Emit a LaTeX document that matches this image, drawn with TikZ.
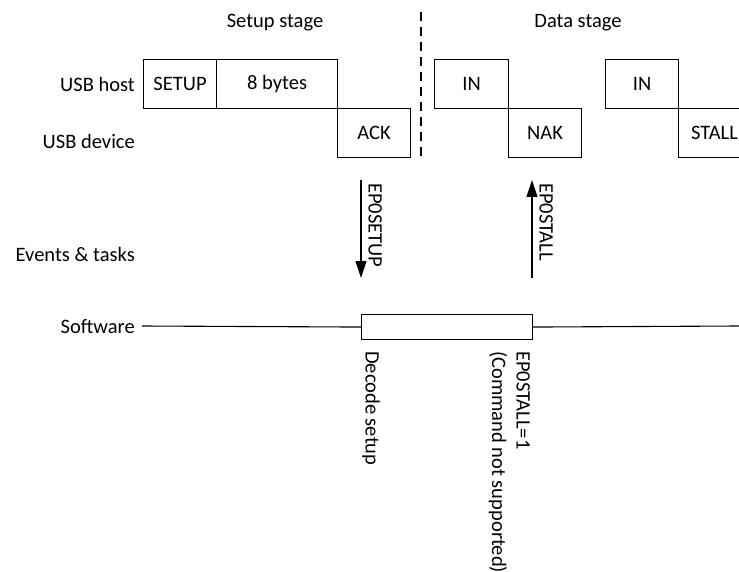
\documentclass[tikz,border=0pt]{standalone}
\usepackage{fontspec}
\setmainfont{Carlito}
\usetikzlibrary{arrows.meta}
\begin{document}
\begin{tikzpicture}[x=1pt,y=-1pt,
  every node/.style={font=\fontsize{20.5}{24.5}\selectfont, inner sep=0pt},
  pkt/.style={draw, line width=1.1pt, anchor=north west, minimum height=49pt},
  lbl/.style={anchor=east},
  vlbl/.style={rotate=-90, anchor=north west, align=left},
  evt/.style={line width=1.1pt, -{Triangle[length=17pt,width=11pt]}},
  ln/.style={line width=1.1pt}]
\useasboundingbox (0,0) rectangle (739,572);
% stage titles
\node (setupstage) at (275,23) {Setup stage};
\node (datastage) at (578,23) {Data stage};
\coordinate (dtop) at (421,12);
\coordinate (dbot) at (421,157);
\draw[ln, dash pattern=on 9pt off 6pt] (dtop) -- (dbot);
% row labels
\node[lbl] (host) at (135,84) {USB host};
\node[lbl] (dev) at (135,141) {USB device};
\node[lbl] (evts) at (135,254) {Events \& tasks};
\node[lbl] (sw) at (135,327) {Software};
% packets
\node[pkt, minimum width=73pt] (setup) at (143,59) {SETUP};
\node[pkt, minimum width=121pt] (bytes) at (216,59) {8 bytes};
\node[pkt, minimum width=73pt] (ack) at (337,108) {ACK};
\node[pkt, minimum width=74pt] (in1) at (434,59) {IN};
\node[pkt, minimum width=73pt] (nak) at (508,108) {NAK};
\node[pkt, minimum width=73pt] (in2) at (605,59) {IN};
\node[pkt, minimum width=72pt] (stall) at (678,108) {STALL};
% events
\coordinate (e1a) at (361,180);
\coordinate (e1b) at (361,278);
\coordinate (e2a) at (532,278);
\coordinate (e2b) at (532,180);
\draw[evt] (e1a) -- (e1b);
\draw[evt] (e2a) -- (e2b);
\node[vlbl] (ep0setup) at (382,183) {EP0SETUP};
\node[vlbl] (ep0stall) at (553,183) {EP0STALL};
% software
\node[draw, line width=1.1pt, minimum width=171pt, minimum height=25pt, anchor=north west] (proc) at (361,314) {};
\coordinate (swl) at (142,326);
\coordinate (swr) at (739,326);
\draw[ln] (swl) -- (proc.west);
\draw[ln] (proc.east) -- (swr);
\node[vlbl] (decode) at (380,351) {Decode setup};
\node[vlbl] (stalltxt) at (530,351) {EP0STALL=1\\(Command not supported)};
\end{tikzpicture}
\end{document}
